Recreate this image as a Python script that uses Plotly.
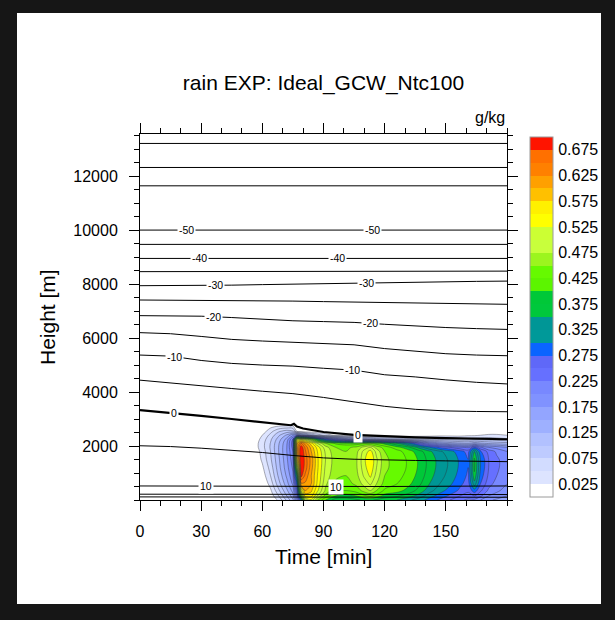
import numpy as np
import plotly.graph_objects as go

# ---------------- rain mixing ratio (g/kg), time-height section ----------------
rain_time = [50, 56, 60, 64, 68, 72, 75, 77, 79, 81, 84, 87, 91, 96, 101, 106, 110,
             113, 116, 120, 126, 132, 137, 142, 147, 152, 157, 161, 164, 167, 171, 175, 180]
rain_height = [0, 150, 350, 600, 900, 1200, 1500, 1800, 1950, 2100, 2250, 2400, 2550, 2800, 3100]
# one vertical profile (bottom -> top, at rain_height) per entry of rain_time
rain_gkg = [
    [0, 0, 0, 0, 0, 0, 0, 0, 0, 0, 0, 0, 0, 0, 0],                                   # 50
    [0, 0, 0, 0, 0, 0, 0, 0.005, 0.01, 0.01, 0.005, 0, 0, 0, 0],                      # 56
    [0, 0, 0, 0, 0.01, 0.02, 0.03, 0.035, 0.04, 0.04, 0.035, 0.025, 0.01, 0, 0],      # 60
    [0, 0.01, 0.02, 0.035, 0.05, 0.06, 0.07, 0.075, 0.078, 0.076, 0.07, 0.058, 0.04, 0.008, 0],  # 64
    [0.03, 0.05, 0.07, 0.09, 0.105, 0.115, 0.12, 0.125, 0.125, 0.122, 0.112, 0.095, 0.07, 0.01, 0],  # 68
    [0.08, 0.1, 0.12, 0.14, 0.155, 0.165, 0.17, 0.175, 0.175, 0.172, 0.16, 0.13, 0.085, 0.01, 0],  # 72
    [0.12, 0.14, 0.16, 0.18, 0.195, 0.205, 0.215, 0.225, 0.235, 0.24, 0.23, 0.17, 0.08, 0.01, 0],  # 75
    [0.2, 0.22, 0.25, 0.29, 0.36, 0.46, 0.56, 0.61, 0.61, 0.59, 0.5, 0.2, 0.02, 0, 0],  # 77
    [0.3, 0.42, 0.52, 0.62, 0.685, 0.7, 0.71, 0.705, 0.695, 0.65, 0.52, 0.16, 0.01, 0, 0],  # 79
    [0.48, 0.56, 0.6, 0.62, 0.645, 0.665, 0.665, 0.655, 0.645, 0.615, 0.5, 0.14, 0, 0, 0],  # 81
    [0.52, 0.56, 0.58, 0.6, 0.6, 0.61, 0.615, 0.6, 0.59, 0.56, 0.44, 0.1, 0, 0, 0],  # 84
    [0.45, 0.5, 0.53, 0.545, 0.55, 0.555, 0.555, 0.55, 0.54, 0.5, 0.36, 0.07, 0, 0, 0],  # 87
    [0.4, 0.44, 0.47, 0.48, 0.49, 0.495, 0.5, 0.495, 0.485, 0.45, 0.28, 0.04, 0, 0, 0],  # 91
    [0.36, 0.4, 0.43, 0.445, 0.455, 0.46, 0.46, 0.455, 0.45, 0.42, 0.22, 0.02, 0, 0, 0],  # 96
    [0.36, 0.39, 0.425, 0.44, 0.45, 0.455, 0.455, 0.45, 0.445, 0.41, 0.18, 0.01, 0, 0, 0],  # 101
    [0.37, 0.4, 0.435, 0.455, 0.465, 0.47, 0.47, 0.465, 0.455, 0.41, 0.15, 0, 0, 0, 0],  # 106
    [0.38, 0.42, 0.46, 0.485, 0.505, 0.515, 0.52, 0.51, 0.485, 0.42, 0.14, 0, 0, 0, 0],  # 110
    [0.38, 0.43, 0.475, 0.505, 0.53, 0.545, 0.55, 0.535, 0.5, 0.425, 0.13, 0, 0, 0, 0],  # 113
    [0.37, 0.415, 0.45, 0.475, 0.49, 0.5, 0.505, 0.49, 0.465, 0.41, 0.12, 0, 0, 0, 0],  # 116
    [0.36, 0.39, 0.42, 0.44, 0.45, 0.455, 0.455, 0.45, 0.44, 0.39, 0.11, 0, 0, 0, 0],  # 120
    [0.35, 0.38, 0.41, 0.425, 0.435, 0.44, 0.44, 0.435, 0.41, 0.35, 0.1, 0, 0, 0, 0],  # 126
    [0.33, 0.36, 0.39, 0.405, 0.415, 0.42, 0.42, 0.41, 0.38, 0.3, 0.09, 0, 0, 0, 0],  # 132
    [0.31, 0.34, 0.365, 0.38, 0.39, 0.395, 0.395, 0.385, 0.34, 0.24, 0.08, 0.005, 0, 0, 0],  # 137
    [0.29, 0.31, 0.335, 0.35, 0.36, 0.365, 0.365, 0.355, 0.3, 0.19, 0.07, 0.01, 0, 0, 0],  # 142
    [0.27, 0.29, 0.31, 0.325, 0.335, 0.34, 0.34, 0.33, 0.27, 0.16, 0.07, 0.015, 0, 0, 0],  # 147
    [0.25, 0.27, 0.29, 0.305, 0.315, 0.32, 0.32, 0.31, 0.25, 0.14, 0.065, 0.015, 0, 0, 0],  # 152
    [0.23, 0.25, 0.27, 0.28, 0.29, 0.295, 0.295, 0.285, 0.23, 0.13, 0.06, 0.015, 0, 0, 0],  # 157
    [0.22, 0.24, 0.255, 0.265, 0.27, 0.275, 0.275, 0.265, 0.22, 0.125, 0.06, 0.02, 0, 0, 0],  # 161
    [0.22, 0.25, 0.29, 0.34, 0.37, 0.38, 0.38, 0.35, 0.27, 0.14, 0.065, 0.02, 0, 0, 0],  # 164
    [0.2, 0.23, 0.255, 0.275, 0.29, 0.3, 0.3, 0.28, 0.23, 0.13, 0.065, 0.025, 0, 0, 0],  # 167
    [0.18, 0.2, 0.22, 0.235, 0.245, 0.25, 0.25, 0.24, 0.2, 0.12, 0.065, 0.03, 0.005, 0, 0],  # 171
    [0.17, 0.19, 0.205, 0.215, 0.225, 0.23, 0.23, 0.22, 0.19, 0.115, 0.06, 0.03, 0.005, 0, 0],  # 175
    [0.16, 0.175, 0.19, 0.2, 0.205, 0.21, 0.21, 0.2, 0.175, 0.11, 0.055, 0.025, 0.005, 0, 0],  # 180
]

# contour levels of the rain field and colour of each band (below first level -> above last)
rain_levels = dict(start=0.025, end=0.675, size=0.025)
band_colors = ['#FFFFFF', '#DDE4FF', '#D2DCFF', '#BECBFF', '#B2C1FF', '#9EB0FF', '#93A5FF',
               '#8092FF', '#7888FF', '#6670FF', '#5F68F8', '#0A64FF', '#009999', '#009696',
               '#00C83C', '#00C838', '#5CF500', '#66FA00', '#9CF51E', '#C8FF3C', '#CCFF33',
               '#FFFF00', '#FFF000', '#FFC000', '#FFA000', '#FF8000', '#FF7000', '#FF1400']
cbar_ticks = [0.025, 0.075, 0.125, 0.175, 0.225, 0.275, 0.325, 0.375, 0.425, 0.475,
              0.525, 0.575, 0.625, 0.675]

# ---------------- temperature isotherms (deg C): height [m] vs time ----------------
iso_time = [0, 15, 30, 45, 60, 75, 90, 105, 120, 135, 150, 165, 180]
iso_m65 = [13210, 13210, 13210, 13210, 13210, 13210, 13210, 13210, 13210, 13210, 13210, 13210, 13210]
iso_m60 = [12320, 12320, 12320, 12320, 12320, 12320, 12320, 12320, 12320, 12320, 12320, 12320, 12320]
iso_m55 = [11640, 11640, 11640, 11640, 11640, 11640, 11640, 11640, 11640, 11640, 11640, 11640, 11640]
iso_m50 = [10000, 10000, 10000, 10000, 10000, 10000, 10000, 10000, 10000, 10000, 10000, 10000, 10000]
iso_m45 = [9470, 9470, 9470, 9470, 9470, 9470, 9470, 9470, 9470, 9470, 9470, 9470, 9470]
iso_m40 = [8950, 8950, 8950, 8950, 8950, 8950, 8950, 8950, 8950, 8950, 8950, 8950, 8950]
iso_m35 = [8460, 8460, 8462, 8464, 8466, 8468, 8470, 8472, 8474, 8476, 8478, 8480, 8480]
iso_m30 = [7940, 7940, 7945, 7960, 7980, 8000, 8020, 8040, 8060, 8075, 8090, 8100, 8110]
iso_m25 = [7410, 7405, 7400, 7390, 7380, 7370, 7350, 7330, 7310, 7290, 7275, 7260, 7250]
iso_m20 = [6830, 6825, 6810, 6760, 6690, 6640, 6610, 6580, 6510, 6440, 6390, 6350, 6320]
iso_m15 = [6200, 6160, 6060, 5950, 5890, 5850, 5800, 5750, 5610, 5510, 5420, 5370, 5345]
iso_m10 = [5370, 5330, 5170, 5060, 5000, 4960, 4880, 4810, 4640, 4560, 4450, 4360, 4300]
iso_m05 = [4440, 4330, 4230, 4130, 4030, 3940, 3800, 3640, 3470, 3360, 3300, 3280, 3270]
iso_p05 = [2010, 1980, 1920, 1850, 1760, 1650, 1560, 1510, 1480, 1465, 1450, 1435, 1420]
iso_p10 = [520, 515, 510, 505, 500, 500, 495, 495, 500, 505, 510, 515, 520]
iso_p15 = [215, 215, 212, 210, 210, 208, 206, 205, 205, 205, 204, 203, 202]
iso_p20 = [115, 115, 114, 113, 112, 110, 108, 107, 106, 105, 104, 103, 102]
zero_time = [0, 15, 30, 45, 60, 72, 74, 75.5, 77, 80, 90, 105, 120, 135, 150, 165, 180]
iso_zero = [3330, 3230, 3120, 3000, 2880, 2790, 2770, 2820, 2720, 2650, 2520, 2410, 2360,
            2320, 2290, 2270, 2250]

# times at which the isotherm labels sit
label_time = {-50: [23, 114], -40: [29, 97], -30: [37, 111], -20: [36, 113],
              -10: [17, 104], 0: [16.5, 107], 10: [32.6, 96.2]}

FONT = 'Liberation Sans, Arial, Helvetica, sans-serif'

# ---------------- figure ----------------
nb = len(band_colors)
# colour map used by the contour fill: band k is painted with colorscale(k/(nb-1))
fill_scale = []
for k, c in enumerate(band_colors):
    fill_scale.append([max(0.0, (k - 0.5) / (nb - 1)), c])
    fill_scale.append([min(1.0, (k + 0.5) / (nb - 1)), c])
# the same bands, each of equal height, for the colour bar
cb_scale = []
for k, c in enumerate(band_colors):
    cb_scale.append([k / nb, c])
    cb_scale.append([(k + 1) / nb, c])
cb_min = rain_levels['start'] - rain_levels['size']
cb_max = rain_levels['end'] + rain_levels['size']

fig = go.Figure()
fig.add_trace(go.Contour(
    x=rain_time, y=rain_height, z=np.array(rain_gkg).T,
    contours=dict(start=rain_levels['start'], end=rain_levels['end'], size=rain_levels['size'],
                  coloring='fill', showlines=True),
    line=dict(color='rgba(45,45,55,0.72)', width=0.55, smoothing=0.9),
    colorscale=fill_scale, showscale=False,
    hoverinfo='skip',
))

CB_X0 = (530 - 140) / 367
CB_X1 = (552.5 - 140) / 367
CB_LEN = 360 / 366
CB_Y = 0.5
fig.add_trace(go.Scatter(
    x=[None], y=[None], mode='markers', hoverinfo='skip', showlegend=False,
    marker=dict(color=[cb_min], cmin=cb_min, cmax=cb_max, colorscale=cb_scale, showscale=True,
                colorbar=dict(
                    x=CB_X0, xanchor='left', xpad=0,
                    y=CB_Y, yanchor='middle', ypad=0,
                    len=CB_LEN, lenmode='fraction',
                    thickness=22.5, thicknessmode='pixels',
                    outlinewidth=1, outlinecolor='#9a9a9a',
                    tickmode='array', tickvals=cbar_ticks,
                    ticktext=[f'{v:.3f}' for v in cbar_ticks],
                    ticks='outside', ticklen=2, tickcolor='rgba(0,0,0,0)',
                    tickfont=dict(size=16, family=FONT, color='black'),
                )),
))

isolines = [iso_m65, iso_m60, iso_m55, iso_m50, iso_m45, iso_m40, iso_m35, iso_m30, iso_m25,
            iso_m20, iso_m15, iso_m10, iso_m05, iso_p05, iso_p10, iso_p15, iso_p20]
for h in isolines:
    fig.add_trace(go.Scatter(x=iso_time, y=h, mode='lines',
                             line=dict(color='black', width=1.0), hoverinfo='skip'))
fig.add_trace(go.Scatter(x=zero_time, y=iso_zero, mode='lines',
                         line=dict(color='black', width=2.2), hoverinfo='skip'))

level_lines = {-50: (iso_time, iso_m50), -40: (iso_time, iso_m40), -30: (iso_time, iso_m30),
               -20: (iso_time, iso_m20), -10: (iso_time, iso_m10), 0: (zero_time, iso_zero),
               10: (iso_time, iso_p10)}
annotations = []
for lev, times in label_time.items():
    tx, hy = level_lines[lev]
    for t in times:
        annotations.append(dict(
            x=t, y=float(np.interp(t, tx, hy)), xref='x', yref='y', text=str(lev),
            showarrow=False, bgcolor='white', borderpad=1,
            font=dict(size=10.5, family=FONT, color='black')))

annotations += [
    dict(text='g/kg', x=1, xref='paper', xanchor='right', y=(500 - 128) / 366, yref='paper',
         yanchor='bottom', showarrow=False, font=dict(size=16, family=FONT, color='black')),
    dict(text='Time [min]', x=0.5, xref='paper', xanchor='center', y=(500 - 556) / 366,
         yref='paper', yanchor='middle', showarrow=False,
         font=dict(size=21, family=FONT, color='black')),
    dict(text='Height [m]', x=(47 - 140) / 367, xref='paper', xanchor='center', y=0.5,
         yref='paper', yanchor='middle', textangle=-90, showarrow=False,
         font=dict(size=21, family=FONT, color='black')),
]

# thin separators between the colour-bar boxes, one per contour level
cb_bottom = CB_Y - CB_LEN / 2
shapes = [dict(type='rect', xref='paper', yref='paper', layer='below',
               x0=(17 - 140) / 367, x1=(601 - 140) / 367,
               y0=(500 - 604) / 366, y1=(500 - 13) / 366,
               fillcolor='white', line=dict(width=0))]
nlev = int(round((rain_levels['end'] - rain_levels['start']) / rain_levels['size'])) + 1
for i in range(nlev):
    lev = rain_levels['start'] + i * rain_levels['size']
    yy = cb_bottom + (lev - cb_min) / (cb_max - cb_min) * CB_LEN
    shapes.append(dict(type='line', xref='paper', yref='paper', x0=CB_X0, x1=CB_X1,
                       y0=yy, y1=yy, line=dict(color='rgba(60,60,60,0.6)', width=0.8)))

axis_common = dict(showline=True, linecolor='black', linewidth=1, mirror='ticks',
                   ticks='outside', ticklen=10, tickwidth=1, tickcolor='black',
                   showgrid=False, zeroline=False,
                   tickfont=dict(size=16, family=FONT, color='black'))

ytick_vals = [2000, 4000, 6000, 8000, 10000, 12000]
fig.update_layout(
    width=615, height=620,
    margin=dict(l=140, r=108, t=134, b=120, pad=0),
    paper_bgcolor='#161616', plot_bgcolor='white',
    showlegend=False,
    font=dict(family=FONT, color='black'),
    title=dict(text='rain EXP: Ideal_GCW_Ntc100', x=0.5, xref='paper', xanchor='center',
               y=1 - 83 / 620, yref='container', yanchor='middle',
               font=dict(size=21, family=FONT, color='black')),
    xaxis=dict(range=[0, 180], tickmode='array', tickvals=[0, 30, 60, 90, 120, 150],
               ticklabelstandoff=7,
               minor=dict(tickmode='linear', tick0=0, dtick=10, ticks='outside', ticklen=5,
                          tickwidth=1, tickcolor='black', showgrid=False),
               **axis_common),
    yaxis=dict(range=[0, 13560], tickmode='array', tickvals=ytick_vals,
               ticktext=[str(v) for v in ytick_vals], ticklabelstandoff=8,
               minor=dict(tickmode='linear', tick0=0, dtick=500, ticks='outside', ticklen=5,
                          tickwidth=1, tickcolor='black', showgrid=False),
               **axis_common),
    annotations=annotations,
    shapes=shapes,
)

fig.write_html('out.html', config={'displayModeBar': False},
               post_script="document.body.style.margin='0';"
                           "document.body.style.background='#161616';")
